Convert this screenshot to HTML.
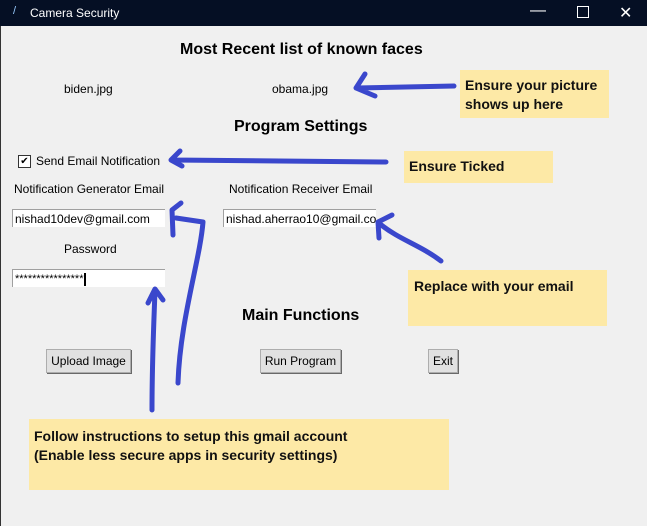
<!DOCTYPE html>
<html><head><style>
body{margin:0;width:647px;height:526px;overflow:hidden;background:#f0f0f0;font-family:"Liberation Sans",sans-serif;position:relative}
.t{position:absolute;white-space:nowrap}
.tb{position:absolute;left:0;top:0;width:647px;height:26px;background:#050f24;color:#fff;font-size:12px}
.e{position:absolute;background:#fff;border-top:1px solid #a0a0a0;border-left:1px solid #a0a0a0;height:18px;font-size:12px;line-height:18px;padding-left:2px;overflow:hidden;box-sizing:border-box}
.b{position:absolute;background:#e1e1e1;border:1px solid #adadad;box-shadow:1px 1px 0 #696969;font-size:12px;text-align:center;line-height:22px;height:24px;box-sizing:border-box}
.y{position:absolute;background:#fde9a6;font-weight:bold;font-size:14px;color:#111;line-height:19px}
</style></head><body>
<div class="tb"><span class="t" style="left:13px;top:5px;font-size:11px;color:#9cf">/</span><span class="t" style="left:30px;top:6px">Camera Security</span>
<span class="t" style="left:530px;top:2px;font-size:16px">—</span>
<span style="position:absolute;left:577px;top:6px;width:10px;height:10px;border:1px solid #fff"></span>
<span class="t" style="left:619px;top:3px;font-size:16px">✕</span></div>
<div style="position:absolute;left:0;top:26px;width:1px;height:500px;background:#333"></div>
<div class="t" style="left:180px;top:41px;font-size:16px;font-weight:bold">Most Recent list of known faces</div>
<div class="t" style="left:64px;top:82px;font-size:12px">biden.jpg</div>
<div class="t" style="left:272px;top:82px;font-size:12px">obama.jpg</div>
<div class="t" style="left:234px;top:118px;font-size:16px;font-weight:bold">Program Settings</div>
<div style="position:absolute;left:18px;top:155px;width:11px;height:11px;background:#fff;border:1px solid #333;font-size:10px;line-height:11px;text-align:center">✔</div>
<div class="t" style="left:36px;top:154px;font-size:12px">Send Email Notification</div>
<div class="t" style="left:14px;top:182px;font-size:12px">Notification Generator Email</div>
<div class="t" style="left:229px;top:182px;font-size:12px">Notification Receiver Email</div>
<div class="e" style="left:12px;top:209px;width:153px">nishad10dev@gmail.com</div>
<div class="e" style="left:223px;top:209px;width:153px">nishad.aherrao10@gmail.com</div>
<div class="t" style="left:64px;top:242px;font-size:12px">Password</div>
<div class="e" style="left:12px;top:269px;width:153px;font-size:11px">****************<span style="display:inline-block;width:2px;height:13px;background:#000;vertical-align:middle"></span></div>
<div class="t" style="left:242px;top:307px;font-size:16px;font-weight:bold">Main Functions</div>
<div class="b" style="left:46px;top:349px;width:85px">Upload Image</div>
<div class="b" style="left:260px;top:349px;width:81px">Run Program</div>
<div class="b" style="left:428px;top:349px;width:30px">Exit</div>
<div class="y" style="left:460px;top:70px;width:149px;height:48px;padding:6px 0 0 5px;box-sizing:border-box">Ensure your picture<br>shows up here</div>
<div class="y" style="left:404px;top:151px;width:149px;height:32px;padding:6px 0 0 5px;box-sizing:border-box">Ensure Ticked</div>
<div class="y" style="left:408px;top:270px;width:199px;height:56px;padding:7px 0 0 6px;box-sizing:border-box">Replace with your email</div>
<div class="y" style="left:29px;top:419px;width:420px;height:71px;padding:8px 0 0 5px;box-sizing:border-box">Follow instructions to setup this gmail account<br>(Enable less secure apps in security settings)</div>
<svg width="647" height="526" style="position:absolute;left:0;top:0" fill="none" stroke="#3a47cc" stroke-width="5" stroke-linecap="round" stroke-linejoin="round">
<path d="M454,86 L357,88 M365,74 L356,88 L375,96"/>
<path d="M386,162 L172,160 M180,151 L171,160 L182,166"/>
<path d="M178,383 C180,320 200,260 203,222 L176,218 M181,203 L172,210 L173,235"/>
<path d="M152,410 C152,360 154,320 155,290 M148,303 L155,289 L163,300"/>
<path d="M441,261 C420,245 400,240 380,224 M392,215 L378,222 L379,238"/>
</svg>
</body></html>
